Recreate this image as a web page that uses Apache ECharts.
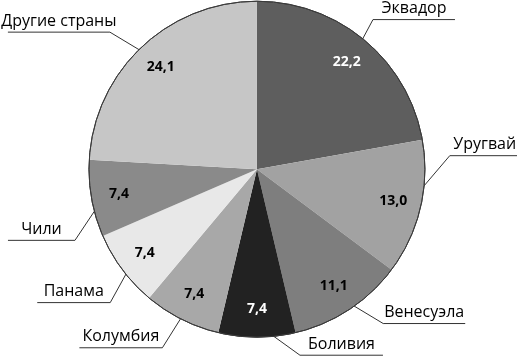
<!DOCTYPE html>
<html><head><meta charset="utf-8">
<script src="https://cdn.jsdelivr.net/npm/echarts@6/dist/echarts.min.js"></script>
<style>html,body{margin:0;padding:0;background:#fff}#c{width:517px;height:357px}</style>
</head><body><div id="c"></div>
<script>
const categories = ['Эквадор','Уругвай','Венесуэла','Боливия','Колумбия','Панама','Чили','Другие страны'];
const values = [22.2, 13.0, 11.1, 7.4, 7.4, 7.4, 7.4, 24.1];
const sliceColors = ['#5e5e5e','#a2a2a2','#7e7e7e','#222222','#a8a8a8','#e8e8e8','#8a8a8a','#c6c6c6'];
const valueColors = ['#ffffff','#000000','#000000','#ffffff','#000000','#000000','#000000','#000000'];
const leaderLen = [35, 38, 44, 31, 47, 43, 40, 46];
const leaderLen2 = [82, 70, 82, 83, 83, 73, 67, 102];
const leaderShiftX = [-6, 5, 17, 43, -4, 12, 10, -9];
const leaderShiftY = [-4, -58, -12, 0, -2, 15, 37, 9];

const fmt = v => v.toFixed(1).replace('.', ',');
const center = ['49.7%', '47.4%'];
const R = 168;
const FONT = '"Open Sans", "Noto Sans", sans-serif';

const chart = echarts.init(document.getElementById('c'), null, {renderer: 'canvas'});
chart.setOption({
  animation: false,
  series: [
    {
      type: 'pie', center, radius: [0, R], startAngle: 90, silent: true,
      label: {show: false}, labelLine: {show: false},
      data: categories.map((n, i) => ({name: n, value: values[i], itemStyle: {color: sliceColors[i]}}))
    },
    {
      type: 'pie', center, radius: [R, R], startAngle: 90, silent: true,
      label: {show: false}, labelLine: {show: false},
      itemStyle: {color: 'none', borderColor: '#3a3a3a', borderWidth: 1},
      data: [{value: 1}]
    },
    {
      type: 'pie', center, radius: [106, R], startAngle: 90, silent: true,
      itemStyle: {color: 'rgba(0,0,0,0)'},
      label: {show: true, position: 'inside', fontFamily: FONT, fontWeight: 'bold', fontSize: 14,
        formatter: p => fmt(p.value)},
      labelLine: {show: false},
      data: categories.map((n, i) => ({name: n, value: values[i], label: {color: valueColors[i]}}))
    },
    {
      type: 'pie', center, radius: [0, 155], startAngle: 90, silent: true,
      avoidLabelOverlap: false,
      itemStyle: {color: 'rgba(0,0,0,0)'},
      label: {show: true, position: 'outside', fontFamily: FONT, fontSize: 16, color: '#000',
        formatter: p => p.name},
      labelLine: {show: true, lineStyle: {color: '#333', width: 1}},
      labelLayout: function (p) {
        const i = p.dataIndex, pts = p.labelLinePoints;
        if (!pts) return {align: 'center', verticalAlign: 'bottom'};
        const b = [pts[1][0] + leaderShiftX[i], pts[1][1] + leaderShiftY[i]];
        const e = [pts[2][0] + leaderShiftX[i], pts[2][1] + leaderShiftY[i]];
        return {x: (b[0] + e[0]) / 2, y: b[1] - 3, align: 'center', verticalAlign: 'bottom',
          labelLinePoints: [pts[0], b, e]};
      },
      data: categories.map((n, i) => ({
        name: n, value: values[i],
        labelLine: {length: leaderLen[i], length2: leaderLen2[i]}
      }))
    }
  ]
});
</script></body></html>
